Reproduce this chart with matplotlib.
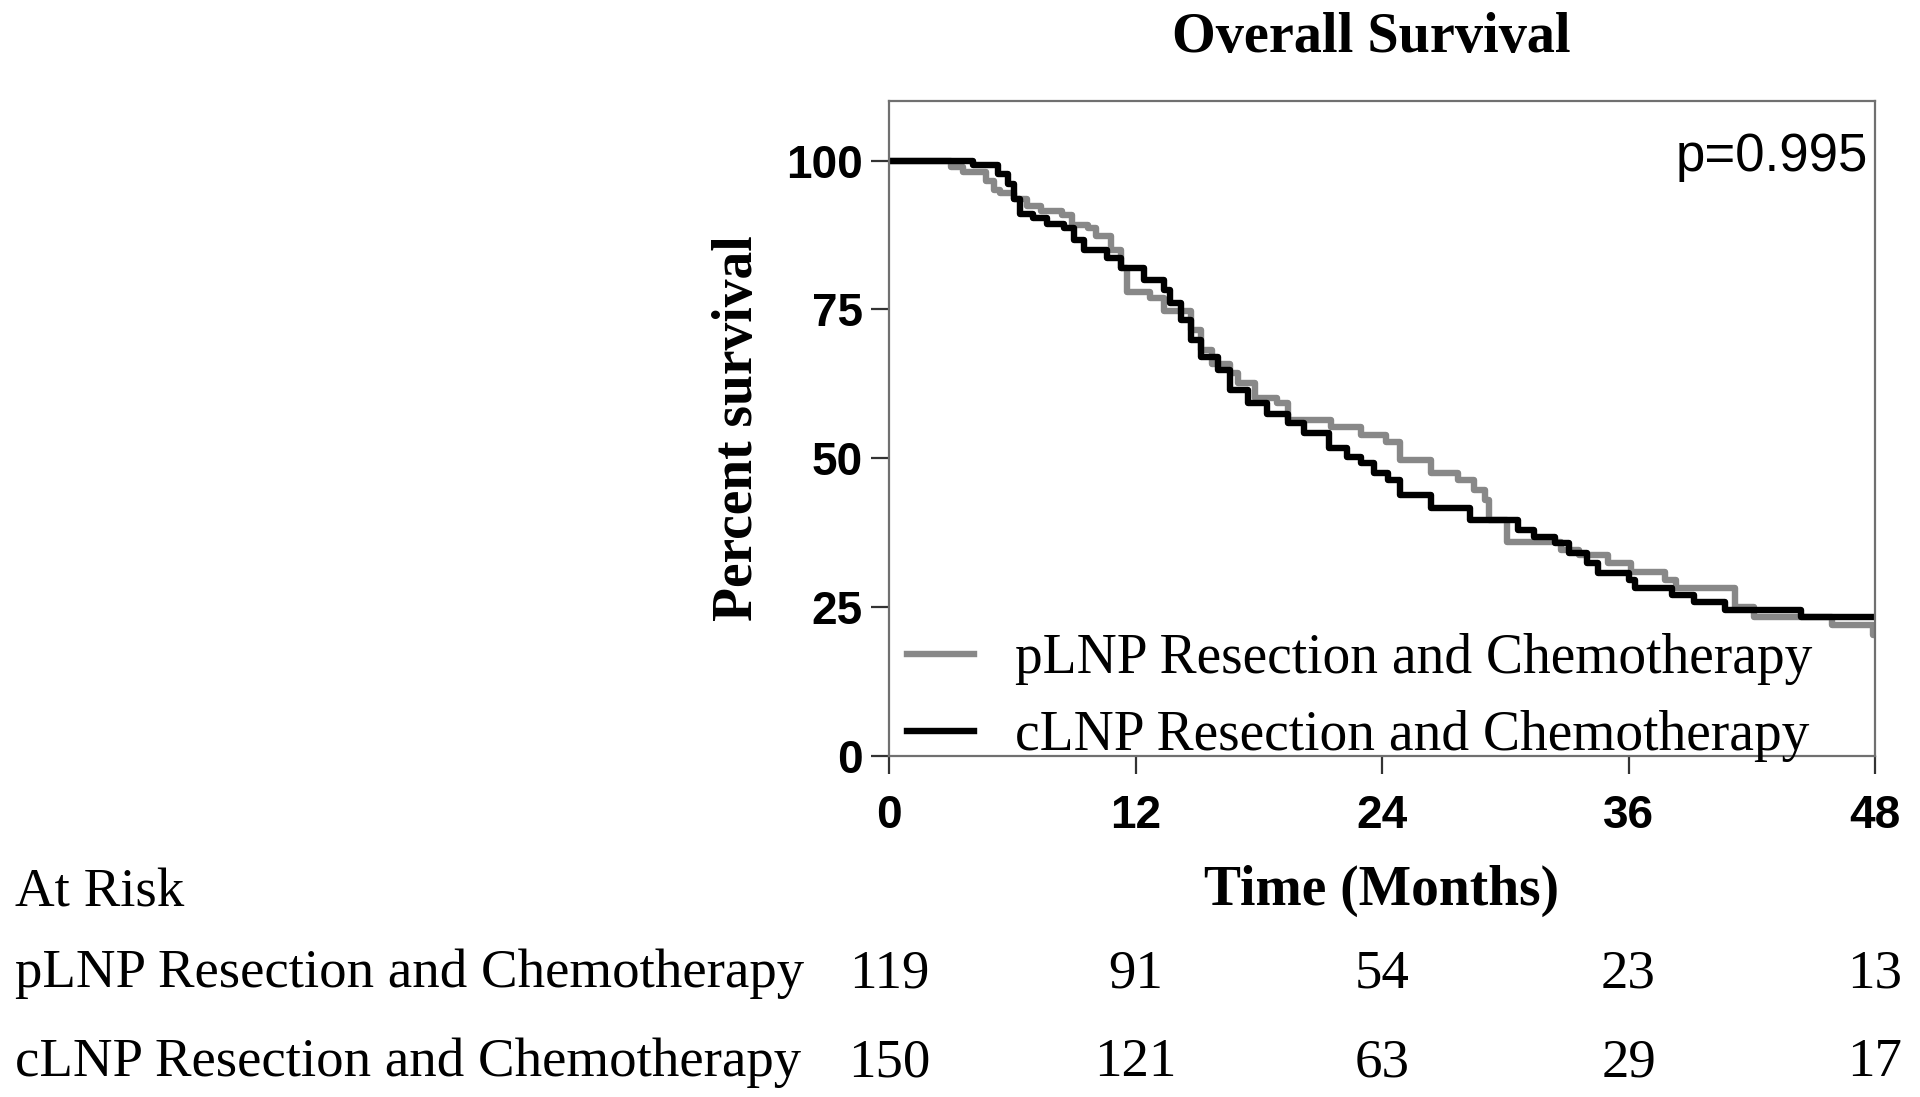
import matplotlib
matplotlib.use("Agg")
import matplotlib.pyplot as plt
import matplotlib.transforms as mtransforms

# Kaplan-Meier step points (months, percent)
p_time = [0, 3.0, 3.6, 4.7, 5.1, 5.4, 6.1, 6.7, 7.4, 8.4, 8.9, 9.7, 10.1, 10.8,
          11.3, 11.6, 12.7, 13.4, 14.7, 15.2, 15.7, 16.6, 17.0, 17.8, 18.9, 19.4,
          21.5, 23.0, 24.2, 24.9, 26.4, 27.7, 28.5, 29.0, 29.2, 30.1, 32.7, 33.6,
          35.0, 36.1, 37.8, 38.3, 41.2, 42.1, 45.9, 47.9, 48]
p_surv = [100, 99.0, 98.0, 96.6, 95.0, 94.5, 93.6, 92.4, 91.6, 90.8, 89.1, 88.6, 87.4, 84.9,
          82.0, 77.9, 77.0, 74.8, 71.5, 68.1, 65.9, 64.3, 62.6, 60.2, 59.2, 56.4,
          55.2, 53.9, 52.7, 49.7, 47.5, 46.3, 44.6, 43.0, 39.6, 35.9, 34.6, 33.7,
          32.4, 30.9, 29.5, 28.2, 25.0, 23.3, 22.0, 20.3, 20.3]

c_time = [0, 4.1, 5.3, 5.8, 6.1, 6.4, 7.0, 7.7, 8.5, 9.0, 9.5, 10.6, 11.3, 12.4, 13.4,
          13.7, 14.2, 14.7, 15.2, 16.0, 16.6, 17.5, 18.4, 19.4, 20.2, 21.4, 22.3, 23.0,
          23.6, 24.3, 24.9, 26.4, 28.3, 30.6, 31.4, 32.4, 33.1, 34.0, 34.5, 36.0, 36.3,
          38.1, 39.2, 40.7, 44.4, 48]
c_surv = [100, 99.2, 97.8, 96.1, 93.5, 91.1, 90.3, 89.4, 88.6, 86.6, 84.9, 83.6, 82.0, 79.9, 78.2,
          76.0, 73.2, 69.8, 67.0, 64.8, 61.4, 59.2, 57.5, 55.9, 54.2, 51.8, 50.2, 49.2,
          47.5, 46.3, 43.8, 41.6, 39.6, 37.9, 36.7, 35.7, 34.1, 32.4, 30.7, 29.5, 28.2,
          27.0, 25.8, 24.6, 23.3, 23.3]

group_names = ["pLNP Resection and Chemotherapy", "cLNP Resection and Chemotherapy"]
risk_times = [0, 12, 24, 36, 48]
p_at_risk = [119, 91, 54, 23, 13]
c_at_risk = [150, 121, 63, 29, 17]
x_ticks = [0, 12, 24, 36, 48]
y_ticks = [0, 25, 50, 75, 100]

SERIF = ["Liberation Serif", "DejaVu Serif"]
SANS = ["Liberation Sans", "DejaVu Sans"]

fig = plt.figure(figsize=(19.2, 10.97), dpi=100)
ax = fig.add_axes([889 / 1920, 1 - 756 / 1097, 986 / 1920, 655 / 1097])

ax.plot(p_time, p_surv, drawstyle="steps-post", color="#888888", lw=4.6, label=group_names[0])
ax.plot(c_time, c_surv, drawstyle="steps-post", color="black", lw=4.6, label=group_names[1])

ax.set_xlim(0, 48)
ax.set_ylim(0, 110)
ax.set_xticks(x_ticks)
ax.set_yticks(y_ticks)
for lab in ax.get_xticklabels() + ax.get_yticklabels():
    lab.set_fontfamily(SANS)
    lab.set_fontweight("bold")
    lab.set_fontsize(33)
ax.tick_params(axis="both", direction="out", length=13, width=1.6, color="#333333")
ax.tick_params(axis="x", pad=14)
ax.tick_params(axis="y", pad=6)
for s in ax.spines.values():
    s.set_color("#707070")
    s.set_linewidth(1.6)

ax.text(0.489, 1.096, "Overall Survival", transform=ax.transAxes, ha="center", va="center",
        fontsize=40.5, fontweight="bold", family=SERIF)
ax.text(-0.153, 0.5, "Percent survival", transform=ax.transAxes, rotation=90,
        ha="center", va="center", fontsize=40, fontweight="bold", family=SERIF)
ax.text(0.5, -0.206, "Time (Months)", transform=ax.transAxes, ha="center", va="center",
        fontsize=40, fontweight="bold", family=SERIF)
ax.text(0.993, 0.893, "p=0.995", transform=ax.transAxes, ha="right", va="baseline",
        fontsize=38, family=SANS)

leg = ax.legend(loc="lower left", bbox_to_anchor=(-0.01, -0.052), frameon=False,
                prop={"family": SERIF, "size": 40}, handlelength=1.2, handletextpad=0.75,
                labelspacing=0.45, borderpad=0.2, borderaxespad=0.3)

# At risk table
fig.text(15 / 1920, 0.174, "At Risk", ha="left", va="baseline", fontsize=39.5, family=SERIF)
row_y = [0.100, 0.019]
trans = mtransforms.blended_transform_factory(ax.transData, fig.transFigure)
for name, counts, yy in zip(group_names, [p_at_risk, c_at_risk], row_y):
    fig.text(15 / 1920, yy, name, ha="left", va="baseline", fontsize=39.5, family=SERIF)
    for t, n in zip(risk_times, counts):
        ax.text(t, yy, str(n), transform=trans, ha="center", va="baseline",
                fontsize=39.5, family=SERIF, clip_on=False)

fig.savefig("out.png", dpi=100)
